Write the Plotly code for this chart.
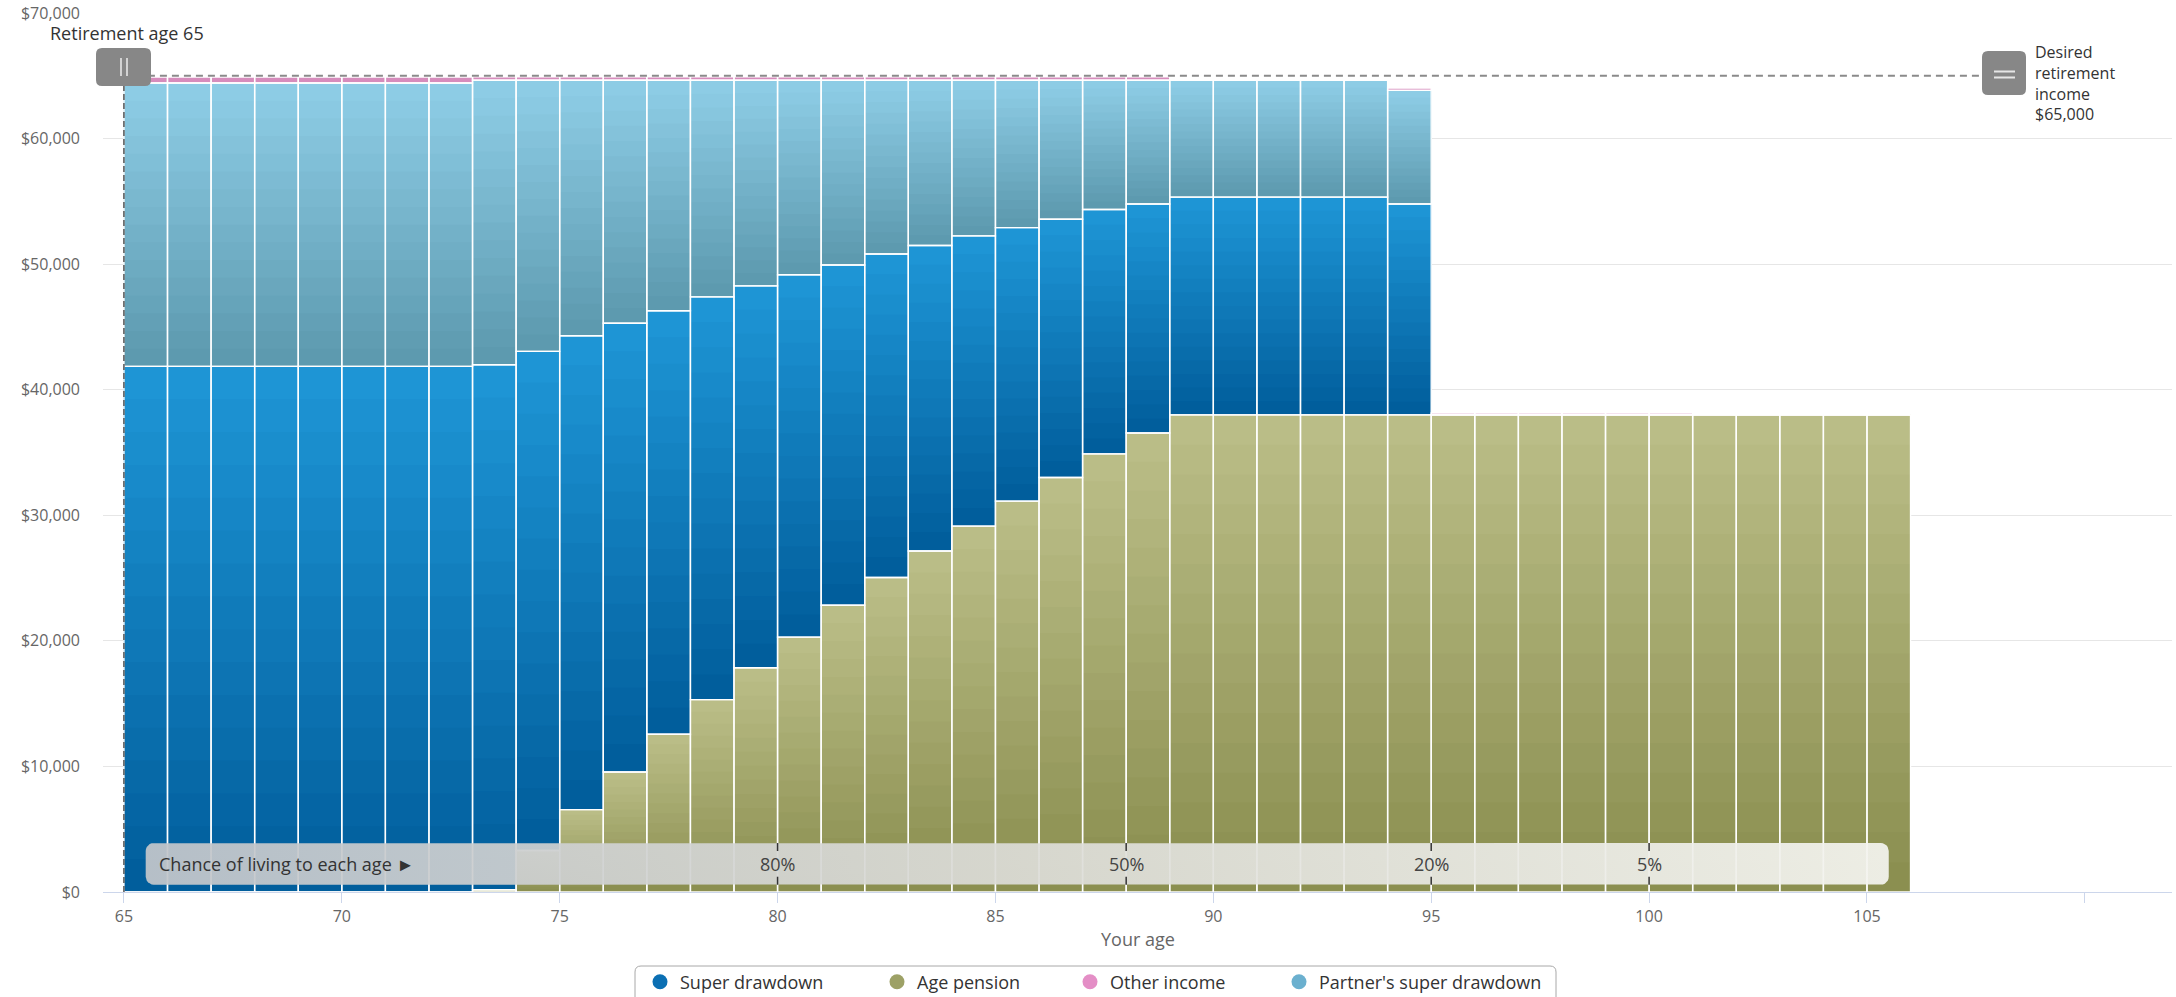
import numpy as np
import plotly.graph_objects as go

# ---------------- data ----------------
ages = list(range(65, 106))
age_pension = [0] * 8 + [180, 3300, 6560, 9560, 12560, 15320, 17860, 20300,
                         22840, 25050, 27150, 29140, 31130, 33010, 34890, 36550] + [38000] * 17
super_drawdown = [41860] * 8 + [41810, 39750, 37740, 35730, 33730, 32070, 30410, 28850,
                                27090, 25760, 24330, 23110, 21780, 20570, 19460, 18240] + [17340] * 5 + [16790] + [0] * 11
partner_super_drawdown = [22570] * 8 + [22650, 21590, 20340, 19350, 18350, 17250, 16370, 15490,
                                        14710, 13830, 13160, 12390, 11730, 11060, 10290, 9850] + [9300] * 5 + [9050] + [0] * 11
other_income = [470] * 8 + [270] * 16 + [0] * 5 + [190] + [150] * 6 + [0] * 5

x_ticks = [65, 70, 75, 80, 85, 90, 95, 100, 105, 110]
x_tick_labels = ["65", "70", "75", "80", "85", "90", "95", "100", "105", ""]
y_ticks = [0, 10000, 20000, 30000, 40000, 50000, 60000, 70000]
y_tick_labels = ["$0", "$10,000", "$20,000", "$30,000", "$40,000", "$50,000", "$60,000", "$70,000"]

chance_ages = [80, 88, 95, 100]
chance_labels = ["80%", "50%", "20%", "5%"]
retirement_age = 65
desired_income = 65000

# ---------------- layout constants ----------------
W, H = 2176, 997
ML, MR, MT, MB = 103, 4, 13, 105
PW = W - ML - MR
PH = H - MT - MB
X_RANGE = [64.52, 112.0]
Y_RANGE = [0, 70000]
PX_X = PW / (X_RANGE[1] - X_RANGE[0])
PX_Y = PH / (Y_RANGE[1] - Y_RANGE[0])
FONT = "Open Sans, sans-serif"


def pxx(p):
    return (p - ML) / PW


def pxy(p):
    return (H - MB - p) / PH


def hex2rgb(h):
    h = h.lstrip("#")
    return tuple(int(h[i:i + 2], 16) for i in (0, 2, 4))


def lerp(c0, c1, t):
    a, b = hex2rgb(c0), hex2rgb(c1)
    return "rgb(%d,%d,%d)" % tuple(round(a[i] + (b[i] - a[i]) * t) for i in range(3))


def rr_path(x0, y0, x1, y1, r):
    X, Y = pxx, pxy
    return (f"M {X(x0 + r)},{Y(y0)} L {X(x1 - r)},{Y(y0)} Q {X(x1)},{Y(y0)} {X(x1)},{Y(y0 + r)} "
            f"L {X(x1)},{Y(y1 - r)} Q {X(x1)},{Y(y1)} {X(x1 - r)},{Y(y1)} "
            f"L {X(x0 + r)},{Y(y1)} Q {X(x0)},{Y(y1)} {X(x0)},{Y(y1 - r)} "
            f"L {X(x0)},{Y(y0 + r)} Q {X(x0)},{Y(y0)} {X(x0 + r)},{Y(y0)} Z")


series = [
    ("Age pension", age_pension, "#898d4e", "#bcbf89", "#9da166", 16),
    ("Super drawdown", super_drawdown, "#005c9a", "#1f97d7", "#0b6fb3", 16),
    ("Partner's super drawdown", partner_super_drawdown, "#5b98ad", "#8fcee7", "#6bb0cf", 16),
    ("Other income", other_income, "#d68cbc", "#d68cbc", "#e48ec6", 1),
]

fig = go.Figure()

# gradient fills: each layer runs from its start to the segment top, later layers cover earlier ones
base = np.zeros(len(ages))
bases = []
for name, vals, c0, c1, lc, K in series:
    v = np.array(vals, dtype=float)
    bases.append(base.copy())
    for k in range(K):
        t = (k + 0.5) / K
        fig.add_trace(go.Bar(
            x=ages, y=v * (K - k) / K, base=base + v * k / K, offset=0, width=1,
            marker=dict(color=lerp(c0, c1, t), line=dict(width=0)),
            showlegend=False, hoverinfo="skip"))
    base = base + v

# white separators around each segment
for (name, vals, c0, c1, lc, K), b in zip(series, bases):
    fig.add_trace(go.Bar(
        x=ages, y=vals, base=b, offset=0, width=1, name=name,
        marker=dict(color="rgba(0,0,0,0)", line=dict(color="white", width=1.4)),
        showlegend=False, hoverinfo="skip"))

# chance-of-living band (rounded, horizontal gradient)
bx0, bx1 = ages[0] + 0.5, ages[-1] + 0.5
by0, by1 = 580, 3900
rx, ry = 8 / PX_X, 8 / PX_Y
pts = []
for cx, cy, a0 in [(bx1 - rx, by1 - ry, 0), (bx0 + rx, by1 - ry, 90),
                   (bx0 + rx, by0 + ry, 180), (bx1 - rx, by0 + ry, 270)]:
    for i in range(7):
        a = np.radians(a0 + 90 * i / 6)
        pts.append((cx + rx * np.cos(a), cy + ry * np.sin(a)))
pts.append(pts[0])
fig.add_trace(go.Scatter(
    x=[p[0] for p in pts], y=[p[1] for p in pts], mode="lines", fill="toself",
    line=dict(width=0, color="rgba(0,0,0,0)"),
    fillgradient=dict(type="horizontal", colorscale=[
        [0, "rgba(193,197,202,0.94)"], [0.5, "rgba(220,220,215,0.93)"], [1, "rgba(244,244,239,0.93)"]]),
    showlegend=False, hoverinfo="skip"))

# legend entries (circle markers), each positioned like the reference
legend_text_x = [680, 917, 1110, 1319]
legend_order = [1, 0, 3, 2]
layout_legends = {}
for j, si in enumerate(legend_order):
    name, vals, c0, c1, lc, K = series[si]
    key = "legend" if j == 0 else f"legend{j + 1}"
    fig.add_trace(go.Scatter(
        x=[None], y=[None], mode="markers", name=name,
        marker=dict(size=15, color=lc), legend=key, showlegend=True))
    layout_legends[key] = dict(
        x=pxx(legend_text_x[j] - 40), y=pxy(982), xanchor="left", yanchor="middle",
        orientation="h", bgcolor="rgba(0,0,0,0)", borderwidth=0,
        font=dict(family=FONT, size=18, color="#333333"))

shapes = []
# desired income dashed line
x_ret_px = ML + (retirement_age - X_RANGE[0]) * PX_X
shapes.append(dict(type="line", xref="x", yref="y", x0=retirement_age,
                   x1=retirement_age + (1982 - x_ret_px) / PX_X,
                   y0=desired_income, y1=desired_income,
                   line=dict(color="#8a8a8a", width=2, dash="7px,5px")))
# retirement age dashed line
shapes.append(dict(type="line", xref="x", yref="y", x0=retirement_age, x1=retirement_age,
                   y0=0, y1=(H - MB - 86) / PX_Y,
                   line=dict(color="#555555", width=1.5, dash="6px,3px")))
# band ticks
for a in chance_ages:
    shapes.append(dict(type="line", xref="x", yref="y", x0=a, x1=a, y0=by1, y1=by1 - 8 / PX_Y,
                       line=dict(color="#333333", width=1.5)))
    shapes.append(dict(type="line", xref="x", yref="y", x0=a, x1=a, y0=by0, y1=by0 + 8 / PX_Y,
                       line=dict(color="#333333", width=1.5)))
# handles
shapes.append(dict(type="path", xref="paper", yref="paper", path=rr_path(96, 48, 151, 86, 6),
                   fillcolor="#878787", line=dict(width=0)))
for xx in (121, 127):
    shapes.append(dict(type="line", xref="paper", yref="paper", x0=pxx(xx), x1=pxx(xx),
                       y0=pxy(58), y1=pxy(76), line=dict(color="#e6e6e6", width=1.6)))
shapes.append(dict(type="path", xref="paper", yref="paper", path=rr_path(1982, 51, 2026, 95, 6),
                   fillcolor="#878787", line=dict(width=0)))
for yy in (71.5, 77.5):
    shapes.append(dict(type="line", xref="paper", yref="paper", x0=pxx(1994), x1=pxx(2015),
                       y0=pxy(yy), y1=pxy(yy), line=dict(color="#e6e6e6", width=2)))
# legend box
shapes.append(dict(type="path", xref="paper", yref="paper", path=rr_path(635, 966, 1556, 1012, 6),
                   fillcolor="rgba(0,0,0,0)", line=dict(color="#a8a8a8", width=1)))

annotations = []
annotations.append(dict(text=f"Retirement age {retirement_age}", xref="paper", yref="paper",
                        x=pxx(48), y=pxy(33), xanchor="left", yanchor="middle", showarrow=False,
                        font=dict(family=FONT, size=18, color="#333333")))
annotations.append(dict(text=f"Desired<br>retirement<br>income<br>${desired_income:,}",
                        xref="paper", yref="paper", x=pxx(2033), y=pxy(83.5),
                        xanchor="left", yanchor="middle", align="left", showarrow=False,
                        font=dict(family=FONT, size=16, color="#333333")))
band_mid = (by0 + by1) / 2
annotations.append(dict(text="Chance of living to each age ►", xref="paper", yref="y",
                        x=pxx(157), y=band_mid, xanchor="left", yanchor="middle", showarrow=False,
                        font=dict(family=FONT, size=18, color="#333333")))
for a, lab in zip(chance_ages, chance_labels):
    annotations.append(dict(text=lab, xref="x", yref="y", x=a, y=band_mid, xanchor="center",
                            yanchor="middle", showarrow=False,
                            font=dict(family=FONT, size=18, color="#444444")))
annotations.append(dict(text="Your age", xref="paper", yref="paper", x=0.5, y=pxy(939),
                        xanchor="center", yanchor="middle", showarrow=False,
                        font=dict(family=FONT, size=18, color="#666666")))

fig.update_layout(
    width=W, height=H, autosize=False,
    margin=dict(l=ML, r=MR, t=MT, b=MB, pad=0, autoexpand=False),
    paper_bgcolor="white", plot_bgcolor="white",
    barmode="overlay", hovermode=False,
    font=dict(family=FONT, size=16, color="#666666"),
    xaxis=dict(range=X_RANGE, tickvals=x_ticks, ticktext=x_tick_labels, showgrid=False,
               zeroline=False, showline=True, linecolor="#ccd6eb", linewidth=1,
               ticks="outside", ticklen=10, tickcolor="#ccd6eb", tickwidth=1, automargin=False,
               tickfont=dict(family=FONT, size=16, color="#666666"), fixedrange=True),
    yaxis=dict(range=Y_RANGE, tickvals=y_ticks, ticktext=y_tick_labels,
               showgrid=True, gridcolor="#e6e6e6", gridwidth=1, zeroline=False, showline=False,
               ticks="", ticklabelstandoff=22, automargin=False,
               tickfont=dict(family=FONT, size=16, color="#666666"), fixedrange=True),
    shapes=shapes, annotations=annotations,
    **layout_legends,
)

fig.write_html("out.html")
